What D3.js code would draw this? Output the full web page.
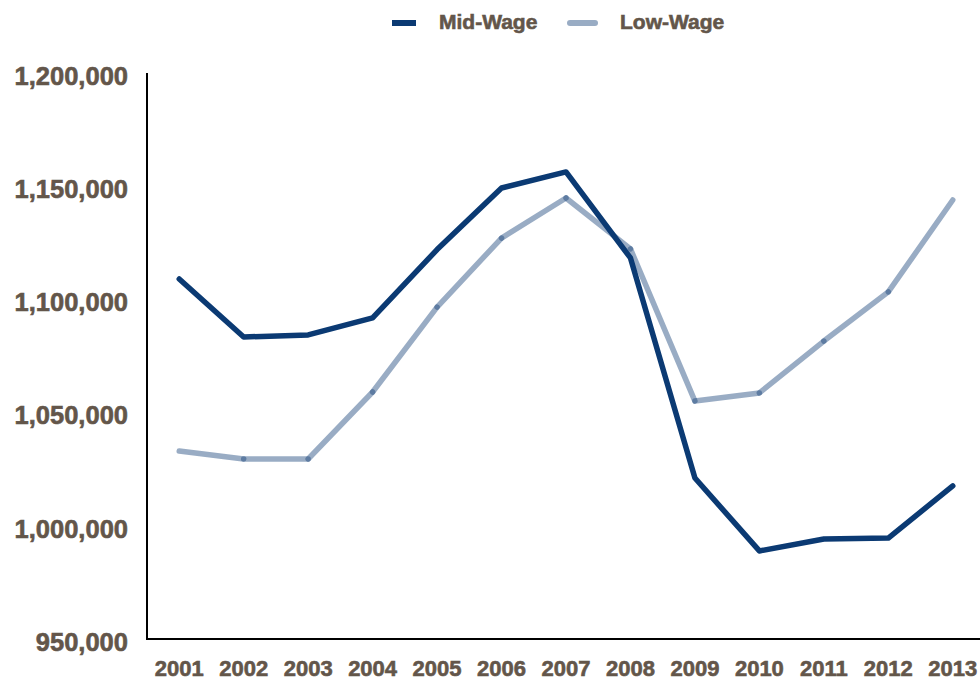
<!DOCTYPE html>
<html>
<head>
<meta charset="utf-8">
<script src="https://cdn.jsdelivr.net/npm/d3@7"></script>
<style>
  body { margin: 0; background: #fff; }
  text { font-family: "Liberation Sans", Arial, sans-serif; font-weight: bold; fill: #63564a; stroke: #63564a; stroke-width: 0.6px; }
</style>
</head>
<body>
<svg id="chart" width="980" height="681"></svg>
<script>
var years = ["2001","2002","2003","2004","2005","2006","2007","2008","2009","2010","2011","2012","2013"];
var midWage = [1109000,1083400,1084300,1091800,1122000,1149200,1156300,1118300,1021100,988900,994200,994600,1017600];
var lowWage = [1033000,1029500,1029500,1059100,1096600,1127100,1144800,1122300,1055100,1058700,1081600,1103300,1143900];
var yTicks = [950000,1000000,1050000,1100000,1150000,1200000];
var seriesNames = ["Mid-Wage","Low-Wage"];

var navy = "#0b3a73";
var svg = d3.select("#chart");

var xScale = d3.scaleBand()
    .domain(years)
    .range([147, 985])
    .padding(0);

var yScale = d3.scaleLinear()
    .domain([950000, 1200000])
    .range([639, 73]);

var cx = function(i) { return xScale(years[i]) + xScale.bandwidth() / 2; };

// y axis labels
var fmt = d3.format(",");
svg.append("g")
  .selectAll("text")
  .data(yTicks)
  .enter().append("text")
    .attr("x", 128)
    .attr("y", function(d) { return yScale(d) + 5; })
    .attr("text-anchor", "end")
    .attr("dominant-baseline", "middle")
    .style("font-size", "25.5px")
    .text(function(d) { return fmt(d); });

// x axis labels
svg.append("g")
  .selectAll("text")
  .data(years)
  .enter().append("text")
    .attr("x", function(d, i) { return cx(i); })
    .attr("y", 676)
    .attr("text-anchor", "middle")
    .style("font-size", "22px")
    .text(function(d) { return d; });

// axis lines
svg.append("line")
    .attr("x1", 147).attr("x2", 147)
    .attr("y1", yScale(1200000)).attr("y2", yScale(950000) + 1)
    .attr("stroke", "#000").attr("stroke-width", 2);
svg.append("line")
    .attr("x1", 146).attr("x2", 985)
    .attr("y1", yScale(950000)).attr("y2", yScale(950000))
    .attr("stroke", "#000").attr("stroke-width", 2);

// low-wage: separate translucent segments so joints darken
var lowSegs = d3.pairs(lowWage.map(function(v, i) { return [cx(i), yScale(v)]; }));
svg.append("g")
  .selectAll("line")
  .data(lowSegs)
  .enter().append("line")
    .attr("x1", function(d) { return d[0][0]; })
    .attr("y1", function(d) { return d[0][1]; })
    .attr("x2", function(d) { return d[1][0]; })
    .attr("y2", function(d) { return d[1][1]; })
    .attr("stroke", navy)
    .attr("stroke-opacity", 0.42)
    .attr("stroke-width", 5.5)
    .attr("stroke-linecap", "round");

// mid-wage line
var line = d3.line()
    .x(function(d, i) { return cx(i); })
    .y(function(d) { return yScale(d); });

svg.append("path")
    .datum(midWage)
    .attr("d", line)
    .attr("fill", "none")
    .attr("stroke", navy)
    .attr("stroke-width", 5.5)
    .attr("stroke-linejoin", "round")
    .attr("stroke-linecap", "round");

// legend
var legend = svg.append("g");
legend.append("line")
    .attr("x1", 392).attr("x2", 416).attr("y1", 23).attr("y2", 23)
    .attr("stroke", navy).attr("stroke-width", 6);
legend.append("text")
    .attr("x", 439).attr("y", 29)
    .style("font-size", "21px")
    .text(seriesNames[0]);
legend.append("line")
    .attr("x1", 570).attr("x2", 595).attr("y1", 23).attr("y2", 23)
    .attr("stroke", navy).attr("stroke-opacity", 0.42)
    .attr("stroke-width", 6).attr("stroke-linecap", "round");
legend.append("text")
    .attr("x", 620).attr("y", 29)
    .style("font-size", "21px")
    .text(seriesNames[1]);
</script>
</body>
</html>
